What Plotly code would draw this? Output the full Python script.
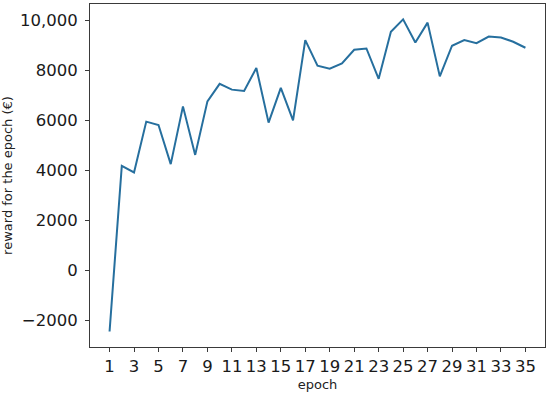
import plotly.graph_objects as go

# Data
epochs = list(range(1, 36))
reward = [-2450, 4175, 3910, 5940, 5805, 4240, 6550, 4610, 6750, 7450,
          7220, 7170, 8085, 5900, 7290, 5990, 9200, 8180, 8060, 8270,
          8815, 8865, 7650, 9530, 10030, 9105, 9900, 7750, 8975, 9200,
          9080, 9340, 9305, 9135, 8895]

y_ticks = [-2000, 0, 2000, 4000, 6000, 8000, 10000]
y_labels = ['\u22122000', '0', '2000', '4000', '6000', '8000', '10,000']
x_ticks = list(range(1, 36, 2))

fig = go.Figure()
fig.add_trace(go.Scatter(x=epochs, y=reward, mode='lines',
                         line=dict(color='#266f9e', width=2), showlegend=False))

axis_common = dict(showgrid=False, zeroline=False, showline=True, mirror=True,
                   linecolor='#3a3a3a', linewidth=1, ticks='outside', ticklen=4,
                   tickcolor='#3a3a3a', tickfont=dict(size=16.5, color='#1a1a1a'))

fig.update_xaxes(range=[-0.6, 36.6], tickvals=x_ticks,
                 title=dict(text='epoch', font=dict(size=13, color='#222222'), standoff=5),
                 **axis_common)
fig.update_yaxes(range=[-3072, 10644], tickvals=y_ticks, ticktext=y_labels,
                 ticklabelstandoff=4,
                 title=dict(text='reward for the epoch (€)', font=dict(size=13, color='#222222'), standoff=8),
                 **axis_common)

fig.update_layout(width=550, height=393, margin=dict(l=87, r=5, t=3, b=45),
                  plot_bgcolor='white', paper_bgcolor='white',
                  font=dict(family='DejaVu Sans'))

# drop the default page margin so the figure sits at the window's corner
fig.write_html("out.html", config=dict(displayModeBar=False),
               post_script="document.body.style.margin='0px';")
